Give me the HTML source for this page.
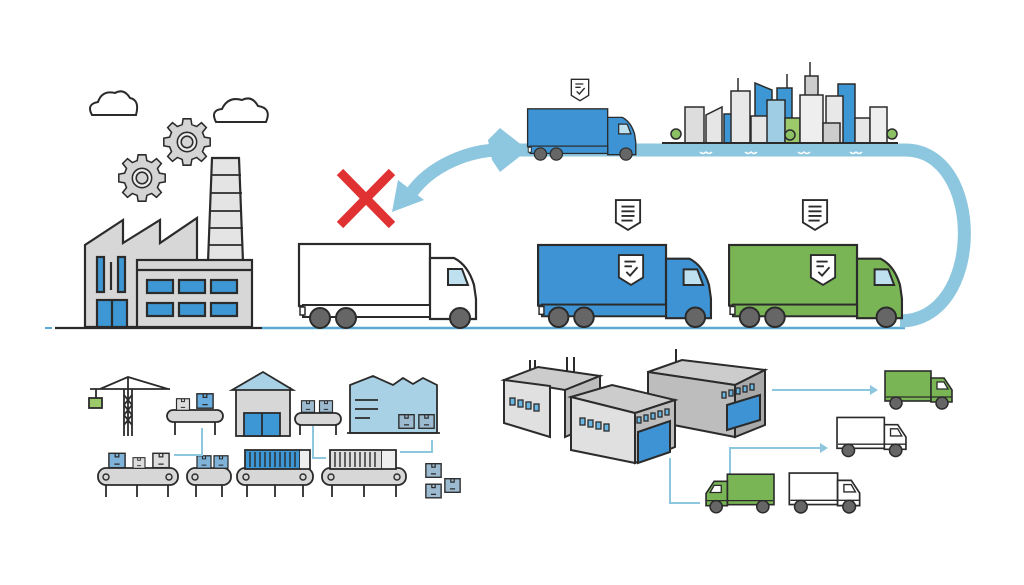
<!DOCTYPE html>
<html><head><meta charset="utf-8"><style>
html,body{margin:0;padding:0;background:#fff;}
svg{display:block;}
</style></head><body>
<svg width="1024" height="585" viewBox="0 0 1024 585" xmlns="http://www.w3.org/2000/svg">
<defs>
<symbol id="truck" viewBox="0 0 180 86" overflow="visible">
  <rect x="1" y="1" width="131" height="62" fill="var(--b)" stroke="#2b2b2b" stroke-width="2.2"/>
  <path d="M132 15 H156 Q170 22 176 42 L178 56 V76 H132 Z" fill="var(--c)" stroke="#2b2b2b" stroke-width="2.2"/>
  <path d="M150 26 H164 L170 42 H150 Z" fill="#bfe0ef" stroke="#2b2b2b" stroke-width="2"/>
  <rect x="5" y="62" width="127" height="12" fill="var(--c)" stroke="#2b2b2b" stroke-width="2"/>
  <rect x="2" y="64" width="5" height="8" fill="#fff" stroke="#2b2b2b" stroke-width="1.5"/>
  <circle cx="22" cy="75" r="10" fill="#666" stroke="#2b2b2b" stroke-width="2"/>
  <circle cx="48" cy="75" r="10" fill="#666" stroke="#2b2b2b" stroke-width="2"/>
  <circle cx="162" cy="75" r="10" fill="#666" stroke="#2b2b2b" stroke-width="2"/>
</symbol>
<symbol id="vtruck" viewBox="0 0 70 40" overflow="visible">
  <rect x="1" y="1" width="46" height="30" fill="var(--b)" stroke="#2b2b2b" stroke-width="1.6"/>
  <path d="M47 8 H60 L68 20 V32 H47 Z" fill="var(--b)" stroke="#2b2b2b" stroke-width="1.6"/>
  <path d="M53 12 H60 L64 19 H53 Z" fill="#fff" stroke="#2b2b2b" stroke-width="1.3"/>
  <line x1="2" y1="27" x2="68" y2="27" stroke="#2b2b2b" stroke-width="1.3"/>
  <circle cx="12" cy="33" r="6" fill="#666" stroke="#2b2b2b" stroke-width="1.5"/>
  <circle cx="58" cy="33" r="6" fill="#666" stroke="#2b2b2b" stroke-width="1.5"/>
</symbol>
<symbol id="doc" viewBox="0 0 30 36" overflow="visible">
  <path d="M2 2 H28 V26 L15 34 L2 26 Z" fill="#fff" stroke="#2b2b2b" stroke-width="2"/>
  <path d="M8 9 H22 M8 14 H22 M8 19 H22 M8 24 H20" stroke="#2b2b2b" stroke-width="2"/>
</symbol>
<symbol id="chk" viewBox="0 0 30 36" overflow="visible">
  <path d="M2 2 H28 V26 L15 34 L2 26 Z" fill="#fff" stroke="#2b2b2b" stroke-width="2"/>
  <path d="M8 9 H20 M8 14 H16 M10 20 L14 24 L22 15" stroke="#2b2b2b" stroke-width="2" fill="none"/>
</symbol>
<symbol id="gear" viewBox="-30 -30 60 60" overflow="visible">
  <g fill="#d4d4d4" stroke="#2b2b2b" stroke-width="1.6">
  <path d="M-4 -24 H4 L5 -18 L10 -16 L15 -20 L20 -15 L16 -10 L18 -5 L24 -4 V4 L18 5 L16 10 L20 15 L15 20 L10 16 L5 18 L4 24 H-4 L-5 18 L-10 16 L-15 20 L-20 15 L-16 10 L-18 5 L-24 4 V-4 L-18 -5 L-16 -10 L-20 -15 L-15 -20 L-10 -16 L-5 -18 Z"/>
  <circle r="10" fill="#eee"/><circle r="6" fill="#d4d4d4"/>
  </g>
</symbol>
<symbol id="box" viewBox="0 0 20 18" overflow="visible">
  <rect x="1" y="1" width="18" height="16" fill="var(--b)" stroke="#2b2b2b" stroke-width="1.6"/>
  <path d="M8 1 V5 H12 V1 M7 13 H13" stroke="#2b2b2b" stroke-width="1.4" fill="none"/>
</symbol>
</defs>

<!-- clouds -->
<g fill="#fff" stroke="#2b2b2b" stroke-width="2">
<path d="M92 115 Q86 104 98 102 Q102 90 115 93 Q124 88 130 98 Q140 100 136 115 Z"/>
<path d="M216 122 Q210 110 222 109 Q228 96 242 100 Q252 95 258 106 Q272 108 266 122 Z"/>
</g>
<!-- gears -->
<use href="#gear" x="113" y="149" width="58" height="58"/>
<use href="#gear" x="158" y="113" width="58" height="58"/>
<!-- factory -->
<g stroke="#2b2b2b" stroke-width="2.2">
<path d="M212 158 H239 L243 262 H208 Z" fill="#e4e4e4"/>
<path d="M211 175 H241 M210 193 H242 M210 211 H242 M209 228 H243 M209 245 H243" stroke-width="1.8"/>
<path d="M85 327 V245 L123 220 V243 L160 220 V243 L197 218 V327 Z" fill="#d7d7d7"/>
<rect x="97" y="257" width="7" height="35" fill="#3d97d4"/>
<rect x="118" y="257" width="7" height="35" fill="#3d97d4"/>
<line x1="111" y1="262" x2="111" y2="290"/>
<rect x="97" y="300" width="30" height="27" fill="#3d97d4"/>
<line x1="112" y1="300" x2="112" y2="327"/>
<rect x="137" y="260" width="115" height="67" fill="#d7d7d7"/>
<line x1="137" y1="270" x2="252" y2="270"/>
<g fill="#3d97d4">
<rect x="147" y="280" width="26" height="13"/><rect x="179" y="280" width="26" height="13"/><rect x="211" y="280" width="26" height="13"/>
<rect x="147" y="303" width="26" height="13"/><rect x="179" y="303" width="26" height="13"/><rect x="211" y="303" width="26" height="13"/>
</g>
<line x1="55" y1="328" x2="262" y2="328"/>
</g>

<!-- road -->
<line x1="45" y1="328" x2="52" y2="328" stroke="#5aa9d6" stroke-width="2"/>
<line x1="262" y1="328" x2="905" y2="328" stroke="#5aa9d6" stroke-width="2.5"/>
<!-- big curve -->
<path d="M900 321 C985 321 985 150 905 150 L500 150" fill="none" stroke="#8dc6df" stroke-width="13"/>
<path d="M488 140 L500 128 L528 150 L500 172 L492 160" fill="#8dc6df"/>
<path d="M500 150 C470 150 430 165 410 195" fill="none" stroke="#8dc6df" stroke-width="13"/>
<path d="M392 212 L398 180 L424 200 Z" fill="#8dc6df"/>
<!-- red X -->
<path d="M340 172 L392 225 M392 172 L340 225" stroke="#e03232" stroke-width="9"/>

<!-- city -->
<g stroke="#2b2b2b" stroke-width="1.5">
<line x1="810" y1="62" x2="810" y2="76"/><line x1="738" y1="78" x2="738" y2="92"/><line x1="787" y1="74" x2="787" y2="88"/>
<rect x="685" y="107" width="19" height="36" fill="#ddd"/>
<path d="M706 143 V115 L722 107 V143 Z" fill="#e6e6e6"/>
<rect x="724" y="114" width="11" height="29" fill="#3d97d4"/>
<rect x="731" y="91" width="19" height="52" fill="#e8e8e8"/>
<path d="M755 143 V83 L772 90 V143 Z" fill="#3d97d4"/>
<rect x="751" y="116" width="19" height="27" fill="#e6e6e6"/>
<rect x="777" y="88" width="15" height="55" fill="#3d97d4"/>
<rect x="767" y="100" width="18" height="43" fill="#9fcde4"/>
<rect x="785" y="118" width="15" height="25" fill="#9cc96a"/>
<rect x="805" y="76" width="13" height="20" fill="#ccc"/>
<rect x="800" y="95" width="23" height="48" fill="#eee"/>
<rect x="838" y="84" width="17" height="59" fill="#3d97d4"/>
<rect x="826" y="96" width="17" height="47" fill="#e8e8e8"/>
<rect x="823" y="123" width="17" height="20" fill="#ccc"/>
<rect x="855" y="118" width="15" height="25" fill="#e6e6e6"/>
<rect x="870" y="107" width="17" height="36" fill="#eee"/>
<circle cx="676" cy="134" r="5" fill="#8bc064"/><circle cx="892" cy="134" r="5" fill="#8bc064"/><circle cx="790" cy="135" r="5" fill="#8bc064"/>
<line x1="662" y1="143" x2="898" y2="143" stroke-width="2"/>
</g>
<g stroke="#fff" stroke-width="1.5" fill="none">
<path d="M700 152 q3 3 6 0 q3 3 6 0 M745 152 q3 3 6 0 q3 3 6 0 M735 159 q3 3 6 0 q3 3 6 0 M798 152 q3 3 6 0 q3 3 6 0 M850 152 q3 3 6 0 q3 3 6 0 M840 159 q3 3 6 0 q3 3 6 0"/>
</g>

<!-- trucks -->
<use href="#truck" x="298" y="243" width="180" height="86" style="--b:#fff;--c:#fff"/>
<use href="#truck" x="527" y="108" width="110" height="53" style="--b:#3d93d3;--c:#3d93d3"/>
<use href="#truck" x="537" y="244" width="176" height="84" style="--b:#3d93d3;--c:#3d93d3"/>
<use href="#truck" x="727" y="244" width="178" height="84" style="--b:#79b455;--c:#79b455"/>
<use href="#chk" x="570" y="78" width="20" height="24"/>
<use href="#doc" x="614" y="198" width="28" height="34"/>
<use href="#doc" x="801" y="198" width="28" height="34"/>
<use href="#chk" x="617" y="253" width="28" height="34"/>
<use href="#chk" x="809" y="253" width="28" height="34"/>

<!-- bottom left -->
<g stroke="#2b2b2b" stroke-width="1.8">
<path d="M90 389 H170 M100 389 L128 377 L168 389 M128 377 V436 M124 389 V436 M132 389 V436" fill="none"/>
<path d="M124 395 L132 405 M132 395 L124 405 M124 405 L132 415 M132 405 L124 415 M124 415 L132 425 M132 415 L124 425" />
<line x1="96" y1="389" x2="96" y2="398"/>
<rect x="89" y="398" width="13" height="10" fill="#9cc96a"/>
<rect x="167" y="410" width="56" height="12" rx="6" fill="#d7d7d7"/>
<path d="M175 422 V435 M215 422 V435"/>
<rect x="236" y="388" width="54" height="48" fill="#d7d7d7"/>
<path d="M232 390 L263 372 L293 390 Z" fill="#a8d1e5"/>
<rect x="244" y="413" width="36" height="23" fill="#3d97d4"/>
<line x1="262" y1="413" x2="262" y2="436"/>
<rect x="295" y="413" width="46" height="12" rx="6" fill="#d7d7d7"/>
<path d="M300 425 V435 M336 425 V435"/>
<path d="M350 433 V385 L373 376 L393 385 L403 378 L413 384 L423 378 L437 385 V433 Z" fill="#a8d1e5"/>
<path d="M355 400 H378 M355 409 H378 M355 418 H370"/>
<line x1="347" y1="433" x2="440" y2="433"/>
<rect x="98" y="468" width="80" height="17" rx="8" fill="#d7d7d7"/>
<rect x="187" y="468" width="44" height="17" rx="8" fill="#d7d7d7"/>
<rect x="237" y="468" width="76" height="17" rx="8" fill="#d7d7d7"/>
<rect x="322" y="468" width="84" height="17" rx="8" fill="#d7d7d7"/>
<path d="M106 485 V497 M137 485 V497 M168 485 V497 M196 485 V497 M222 485 V497 M247 485 V497 M275 485 V497 M303 485 V497 M332 485 V497 M364 485 V497 M396 485 V497"/>
<rect x="245" y="450" width="55" height="19" fill="#3d97d4"/>
<rect x="330" y="450" width="52" height="19" fill="#ddd"/>
<path d="M300 450 h10 v19 h-10 M382 450 h14 v19 h-14" fill="#eee"/>
</g>
<g stroke="#2b2b2b" stroke-width="1.4" fill="none">
<path d="M250 452 V467 M255 452 V467 M260 452 V467 M265 452 V467 M270 452 V467 M275 452 V467 M280 452 V467 M285 452 V467 M290 452 V467 M295 452 V467"/>
<path d="M335 452 V467 M340 452 V467 M345 452 V467 M350 452 V467 M355 452 V467 M360 452 V467 M365 452 V467 M370 452 V467 M375 452 V467"/>
<circle cx="106" cy="477" r="3"/><circle cx="169" cy="477" r="3"/><circle cx="195" cy="477" r="3"/><circle cx="246" cy="477" r="3"/><circle cx="303" cy="477" r="3"/><circle cx="331" cy="477" r="3"/><circle cx="397" cy="477" r="3"/>
</g>
<use href="#box" x="174" y="398" width="18" height="13" style="--b:#ddd"/>
<use href="#box" x="196" y="391" width="18" height="20" style="--b:#6aaee0"/>
<use href="#box" x="299" y="400" width="18" height="13" style="--b:#9dbbd0"/>
<use href="#box" x="317" y="400" width="18" height="13" style="--b:#9dbbd0"/>
<use href="#box" x="398" y="410" width="17" height="23" style="--b:#9dbbd0"/>
<use href="#box" x="418" y="410" width="17" height="23" style="--b:#9dbbd0"/>
<use href="#box" x="108" y="452" width="18" height="17" style="--b:#7fb3d9"/>
<use href="#box" x="130" y="457" width="18" height="12" style="--b:#ddd"/>
<use href="#box" x="152" y="452" width="18" height="17" style="--b:#ddd"/>
<use href="#box" x="196" y="455" width="16" height="14" style="--b:#7fb3d9"/>
<use href="#box" x="213" y="455" width="16" height="14" style="--b:#7fb3d9"/>
<use href="#box" x="425" y="462" width="17" height="17" style="--b:#9dbbd0"/>
<use href="#box" x="425" y="481" width="17" height="20" style="--b:#9dbbd0"/>
<use href="#box" x="444" y="470" width="17" height="31" style="--b:#9dbbd0"/>
<g stroke="#8dc6df" stroke-width="2" fill="none">
<path d="M202 428 V455 H174 M313 426 V458 H326 M400 452 H432 V440"/>
</g>

<!-- bottom right buildings -->
<g stroke="#2b2b2b" stroke-width="2">
<path d="M530 360 V375 M535 360 V372 M567 357 V372 M574 357 V372" />
<path d="M504 380 L538 367 L600 376 L565 390 Z" fill="#ccc"/>
<path d="M504 380 V423 L550 437 V386 Z" fill="#e0e0e0"/>
<path d="M565 390 V437 L600 422 V376 Z" fill="#bdbdbd"/>
<path d="M676 349 V363" />
<path d="M648 372 L682 360 L765 370 L735 385 Z" fill="#ccc"/>
<path d="M648 372 V420 L735 437 V385 Z" fill="#bdbdbd"/>
<path d="M735 385 V437 L765 425 V370 Z" fill="#a9a9a9"/>
<path d="M571 397 L612 385 L675 400 L635 413 Z" fill="#ccc"/>
<path d="M571 397 V450 L635 463 V413 Z" fill="#e0e0e0"/>
<path d="M635 413 V463 L675 447 V400 Z" fill="#bdbdbd"/>
<path d="M638 432 L670 421 V452 L638 463 Z" fill="#3d93d3"/>
<path d="M727 405 L760 395 V420 L727 430 Z" fill="#3d93d3"/>
</g>
<g fill="#6ab7e3" stroke="#2b2b2b" stroke-width="1.3">
<rect x="510" y="398" width="5" height="7"/><rect x="518" y="400" width="5" height="7"/><rect x="526" y="402" width="5" height="7"/><rect x="534" y="404" width="5" height="7"/>
<rect x="580" y="418" width="5" height="7"/><rect x="588" y="420" width="5" height="7"/><rect x="596" y="422" width="5" height="7"/><rect x="604" y="424" width="5" height="7"/>
<rect x="637" y="417" width="4" height="6"/><rect x="644" y="415" width="4" height="6"/><rect x="651" y="413" width="4" height="6"/><rect x="658" y="411" width="4" height="6"/><rect x="665" y="409" width="4" height="6"/>
<rect x="722" y="392" width="4" height="6"/><rect x="729" y="390" width="4" height="6"/><rect x="736" y="388" width="4" height="6"/><rect x="743" y="386" width="4" height="6"/><rect x="750" y="384" width="4" height="6"/>
</g>
<g stroke="#8dc6df" stroke-width="2" fill="none">
<path d="M772 390 H870 M670 458 V503 H700 M730 490 V448 H820"/>
</g>
<path d="M870 385 L878 390 L870 395 Z M820 443 L828 448 L820 453 Z" fill="#8dc6df"/>
<use href="#vtruck" x="884" y="370" width="70" height="40" style="--b:#79b455"/>
<use href="#vtruck" x="836" y="416" width="72" height="42" style="--b:#fff"/>
<use href="#vtruck" x="788" y="472" width="74" height="42" style="--b:#fff"/>
<g transform="translate(775,473) scale(-1,1)">
<use href="#vtruck" x="0" y="0" width="71" height="41" style="--b:#79b455"/>
</g>
</svg>
</body></html>
